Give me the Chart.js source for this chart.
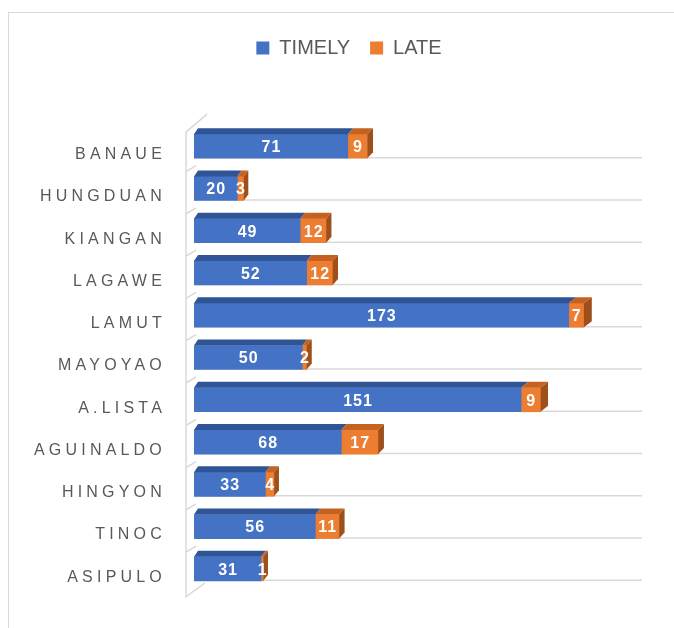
<!DOCTYPE html>
<html lang="en">
<head>
  <meta charset="UTF-8" />
  <title>Timely vs Late</title>
  <script src="https://cdn.jsdelivr.net/npm/chart.js"></script>
  <style>
    html, body {
      margin: 0;
      padding: 0;
      background: #fff;
      overflow: hidden;
    }
    #wrap {
      position: relative;
      width: 674px;
      height: 628px;
    }
  </style>
</head>
<body>
  <div id="wrap"><canvas id="chart"></canvas></div>

  <script>
    const categories = ['BANAUE', 'HUNGDUAN', 'KIANGAN', 'LAGAWE', 'LAMUT', 'MAYOYAO', 'A.LISTA', 'AGUINALDO', 'HINGYON', 'TINOC', 'ASIPULO'];
    const timely = [71, 20, 49, 52, 173, 50, 151, 68, 33, 56, 31];
    const late = [9, 3, 12, 12, 7, 2, 9, 17, 4, 11, 1];

    const FONT = "'Liberation Sans', Arial, sans-serif";
    const GRID = '#d9d9d9';

    // fake 3d depth, a bit wider further right
    function depthX(x) { return 4 + (x - 194) * 0.01; }
    const DY = 6;

    const frame3d = {
      id: 'frame3d',
      beforeDraw(chart) {
        const ctx = chart.ctx;
        ctx.save();
        ctx.strokeStyle = GRID;
        ctx.lineWidth = 1;
        ctx.strokeRect(8.5, 12.5, 800, 800);
        ctx.restore();
      },
      afterUpdate(chart) {
        const ys = chart.scales.y;
        if (ys && !ys._spaced) {
          const orig = ys.drawLabels;
          ys.drawLabels = function (area) {
            this.ctx.save();
            this.ctx.letterSpacing = '4.2px';
            orig.call(this, area);
            this.ctx.restore();
          };
          ys._spaced = true;
        }
      },
      beforeDatasetsDraw(chart) {
        const ctx = chart.ctx;
        const area = chart.chartArea;
        const bars = chart.getDatasetMeta(0).data;
        const wallX = area.left - 8;
        const gridEnd = 642;
        ctx.save();
        ctx.strokeStyle = GRID;
        ctx.lineWidth = 1.5;
        ctx.beginPath();
        const top = bars[0].y - bars[0].height / 2 - 2;
        ctx.moveTo(wallX + 21, top - 18);
        ctx.lineTo(wallX, top);
        ctx.lineTo(wallX, bars[bars.length - 1].y + bars[0].height / 2 + 16);
        ctx.lineTo(wallX + 19, bars[bars.length - 1].y + bars[0].height / 2 + 2);
        bars.forEach((b, i) => {
          const yg = b.y + b.height / 2 - 0.5;
          ctx.moveTo(area.left, yg);
          ctx.lineTo(gridEnd, yg);
          if (i < bars.length - 1) {
            ctx.moveTo(wallX, yg + 14);
            ctx.lineTo(area.left + 2, yg + 8);
          }
        });
        ctx.stroke();
        ctx.restore();
      },
      afterDatasetsDraw(chart) {
        const ctx = chart.ctx;
        const tops = ['#2f5597', '#c5621f'];
        const n = chart.data.datasets.length;
        ctx.save();
        for (let d = 0; d < n; d++) {
          const meta = chart.getDatasetMeta(d);
          meta.data.forEach((b) => {
            const x0 = b.base, x1 = b.x;
            const yt = b.y - b.height / 2;
            const yb = b.y + b.height / 2;
            ctx.fillStyle = tops[d];
            ctx.beginPath();
            ctx.moveTo(x0, yt);
            ctx.lineTo(x1, yt);
            ctx.lineTo(x1 + depthX(x1), yt - DY);
            ctx.lineTo(x0 + depthX(x0), yt - DY);
            ctx.closePath();
            ctx.fill();
            if (d === n - 1) {
              ctx.fillStyle = '#9e4f1a';
              ctx.beginPath();
              ctx.moveTo(x1, yt);
              ctx.lineTo(x1 + depthX(x1), yt - DY);
              ctx.lineTo(x1 + depthX(x1), yb - DY);
              ctx.lineTo(x1, yb);
              ctx.closePath();
              ctx.fill();
            }
          });
        }
        // value labels
        ctx.fillStyle = '#ffffff';
        ctx.font = 'bold 16px ' + FONT;
        ctx.textAlign = 'center';
        ctx.textBaseline = 'middle';
        ctx.letterSpacing = '1px';
        for (let d = 0; d < n; d++) {
          const meta = chart.getDatasetMeta(d);
          const vals = chart.data.datasets[d].data;
          meta.data.forEach((b, i) => {
            ctx.fillText(String(vals[i]), (b.base + b.x) / 2 + 0.5, b.y + 1.5);
          });
        }
        ctx.restore();
      }
    };

    new Chart(document.getElementById('chart'), {
      type: 'bar',
      data: {
        labels: categories,
        datasets: [
          { label: 'TIMELY', data: timely, backgroundColor: '#4472c4', borderWidth: 0, barThickness: 24 },
          { label: 'LATE', data: late, backgroundColor: '#ed7d31', borderWidth: 0, barThickness: 24 }
        ]
      },
      options: {
        indexAxis: 'y',
        responsive: true,
        maintainAspectRatio: false,
        animation: false,
        layout: { padding: { top: 18, right: 0, bottom: 38, left: 24 } },
        scales: {
          x: {
            position: 'top',
            stacked: true,
            min: 0,
            max: 221.6,
            grid: { display: false },
            border: { display: false },
            ticks: { display: false },
            afterFit: (s) => { s.height = 57; }
          },
          y: {
            stacked: true,
            grid: { display: false, drawTicks: false },
            border: { display: false },
            ticks: {
              color: '#595959',
              font: { family: FONT, size: 16 },
              padding: 28,
              labelOffset: 8.5
            },
            afterFit: (s) => { s.width = 170; }
          }
        },
        plugins: {
          tooltip: { enabled: false },
          legend: {
            position: 'top',
            labels: {
              color: '#595959',
              font: { family: FONT, size: 20 },
              boxWidth: 13,
              boxHeight: 13,
              padding: 20
            }
          }
        }
      },
      plugins: [frame3d]
    });
  </script>
</body>
</html>
